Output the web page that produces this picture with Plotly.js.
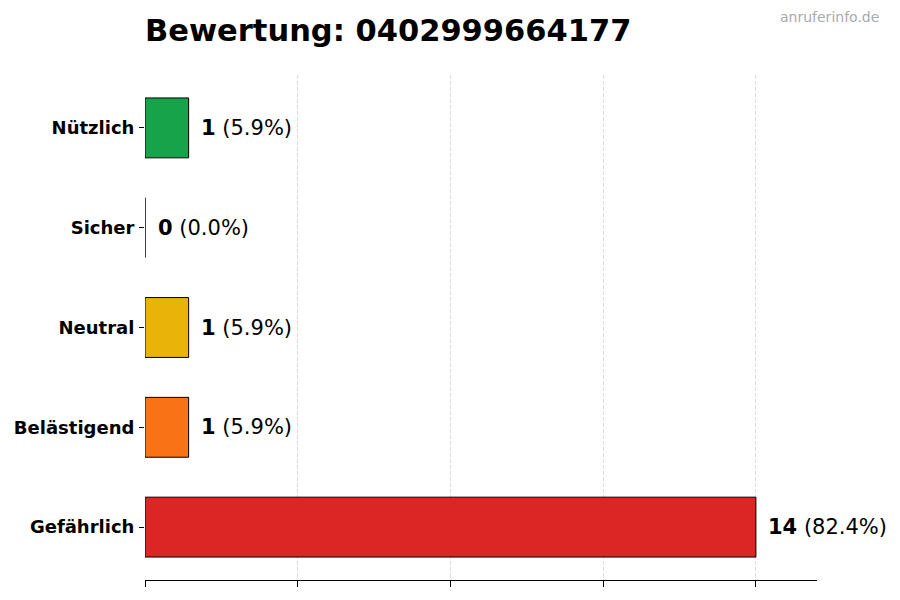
<!DOCTYPE html>
<html>
<head>
<meta charset="utf-8">
<script src="https://cdn.plot.ly/plotly-3.0.1.min.js"></script>
<style>
  html, body { margin: 0; padding: 0; background: #fff; }
  #chart { width: 900px; height: 600px; }
</style>
</head>
<body>
<div id="chart"></div>
<script>
// values
var categories = ['Gefährlich', 'Belästigend', 'Neutral', 'Sicher', 'Nützlich'];
var counts = [14, 1, 1, 0, 1];
var colors = ['#dc2626', '#f97316', '#eab308', '#2563eb', '#16a34a'];
var xTicks = [0, 3.5, 7, 10.5, 14];
var phone = '0402999664177';

var total = counts.reduce(function (a, b) { return a + b; }, 0);
var font = 'DejaVu Sans, sans-serif';

var trace = {
  type: 'bar',
  orientation: 'h',
  x: counts,
  y: categories,
  width: 0.6,
  marker: { color: colors, line: { color: '#000', width: 1 } },
  hoverinfo: 'none'
};

// labels to the right of each bar
var notes = categories.map(function (c, i) {
  var pct = (counts[i] / total * 100).toFixed(1);
  return {
    x: counts[i], y: c, xref: 'x', yref: 'y',
    text: '<b>' + counts[i] + '</b> (' + pct + '%)',
    showarrow: false, xanchor: 'left', yanchor: 'middle',
    xshift: 10.5,
    font: { family: font, size: 21, color: '#000' }
  };
});

notes.push({
  xref: 'paper', yref: 'paper', x: 1.095, y: 1.115,
  xanchor: 'right', yanchor: 'middle',
  text: 'anruferinfo.de', showarrow: false,
  font: { family: font, size: 14, color: '#aaaaaa' }
});

var layout = {
  width: 900, height: 600,
  margin: { l: 145, r: 83, t: 75, b: 20 },
  paper_bgcolor: '#fff', plot_bgcolor: '#fff',
  showlegend: false,
  title: {
    text: '<b>Bewertung: ' + phone + '</b>',
    x: 145 / 900, xanchor: 'left', y: 0.95, yanchor: 'middle',
    font: { family: font, size: 30.5, color: '#000' }
  },
  xaxis: {
    range: [0, 15.4],
    tickvals: xTicks, ticktext: xTicks.map(function () { return ''; }),
    ticks: 'outside', ticklen: 6, tickcolor: '#000', tickwidth: 1,
    showgrid: true, gridcolor: '#dcdcdc', griddash: '4px,2px', gridwidth: 1,
    showline: true, linecolor: '#000', linewidth: 1,
    zeroline: false, fixedrange: true
  },
  yaxis: {
    type: 'category',
    categoryorder: 'array', categoryarray: categories,
    range: [-0.53, 4.53],
    ticks: 'outside', ticklen: 5, tickcolor: '#000', tickwidth: 1,
    ticklabelstandoff: 1,
    showgrid: false, showline: false, zeroline: false,
    tickfont: { family: font, size: 18, color: '#000', weight: 'bold' },
    fixedrange: true
  },
  annotations: notes
};

Plotly.newPlot('chart', [trace], layout, { displayModeBar: false, staticPlot: true });
</script>
</body>
</html>
